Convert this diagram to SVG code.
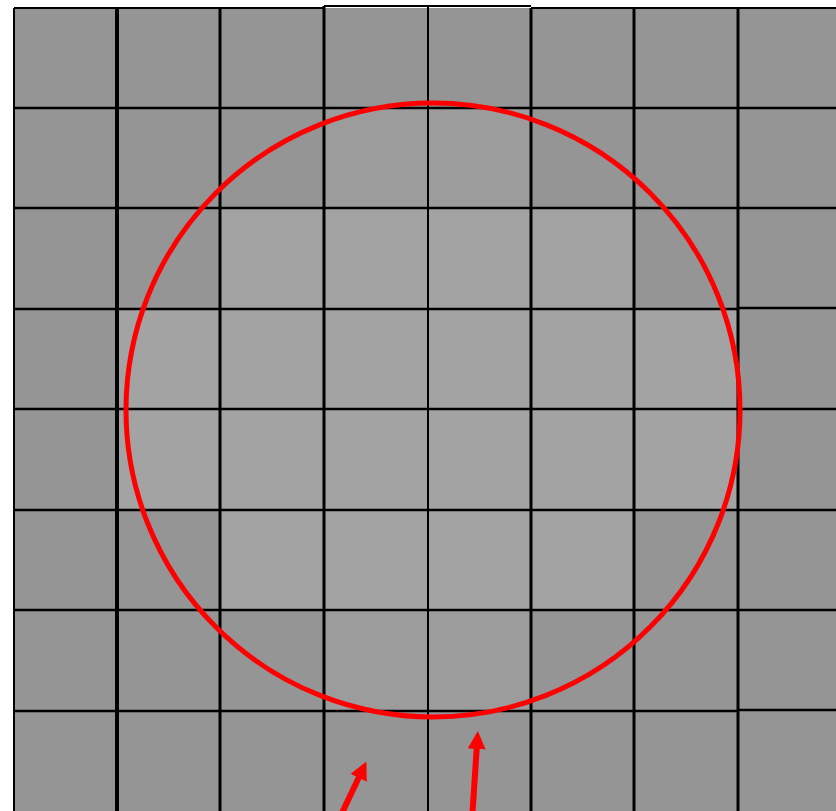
<svg xmlns="http://www.w3.org/2000/svg" width="836" height="811" viewBox="0 0 836 811">
<defs>
<style>
.d{fill:#959595}
.m{fill:#9c9c9c}
.l{fill:#a3a3a3}
.gl{stroke:#000;fill:none}
.arr{stroke:#ff0000;stroke-width:6;fill:none}
</style>
<marker id="ah" viewBox="0 0 18 18" refX="2" refY="9" markerWidth="18" markerHeight="18" markerUnits="userSpaceOnUse" orient="auto">
<path d="M0,0 L18,9 L0,18 z" fill="#ff0000"/>
</marker>
</defs>
<rect width="836" height="811" fill="#ffffff"/>
<g id="cells">
<rect class="d" x="14" y="8" width="822" height="803"/>
<rect class="m" x="324" y="108" width="207" height="100"/>
<rect class="m" x="324" y="610" width="207" height="101"/>
<rect class="l" x="220" y="208" width="414" height="101"/>
<rect class="l" x="117" y="309" width="621" height="201"/>
<rect class="l" x="220" y="510" width="414" height="100"/>
</g>
<g id="grid">
<line class="gl" x1="14" y1="8" x2="14" y2="811" stroke-width="2"/>
<line class="gl" x1="117" y1="8" x2="117" y2="811" stroke-width="4"/>
<line class="gl" x1="220" y1="8" x2="220" y2="811" stroke-width="3"/>
<line class="gl" x1="324" y1="6" x2="324" y2="811" stroke-width="3"/>
<line class="gl" x1="428" y1="6" x2="428" y2="811" stroke-width="2"/>
<line class="gl" x1="531" y1="8" x2="531" y2="811" stroke-width="3"/>
<line class="gl" x1="634" y1="8" x2="634" y2="811" stroke-width="3"/>
<line class="gl" x1="738" y1="8" x2="738" y2="811" stroke-width="3"/>
<line class="gl" x1="14" y1="8" x2="324" y2="8" stroke-width="2"/>
<line class="gl" x1="324" y1="6" x2="531" y2="6" stroke-width="2"/>
<line class="gl" x1="531" y1="8" x2="836" y2="8" stroke-width="2"/>
<line class="gl" x1="14" y1="108" x2="836" y2="108" stroke-width="2.5"/>
<line class="gl" x1="14" y1="208" x2="836" y2="208" stroke-width="2.5"/>
<line class="gl" x1="14" y1="309" x2="738" y2="309" stroke-width="2.5"/>
<line class="gl" x1="738" y1="308" x2="836" y2="308" stroke-width="2.5"/>
<line class="gl" x1="14" y1="409" x2="836" y2="409" stroke-width="2.5"/>
<line class="gl" x1="14" y1="510" x2="836" y2="510" stroke-width="2.5"/>
<line class="gl" x1="14" y1="610" x2="836" y2="610" stroke-width="2.5"/>
<line class="gl" x1="14" y1="711" x2="738" y2="711" stroke-width="2.5"/>
<line class="gl" x1="738" y1="710" x2="836" y2="710" stroke-width="2.5"/>
</g>
<g id="circle">
<circle cx="433" cy="410" r="307" fill="none" stroke="#ff0000" stroke-width="5"/>
</g>
<g id="connectors">
<line class="arr" x1="342" y1="813" x2="359.5" y2="776" marker-end="url(#ah)"/>
<line class="arr" x1="472.5" y1="813" x2="476.8" y2="747" marker-end="url(#ah)"/>
</g>
</svg>
